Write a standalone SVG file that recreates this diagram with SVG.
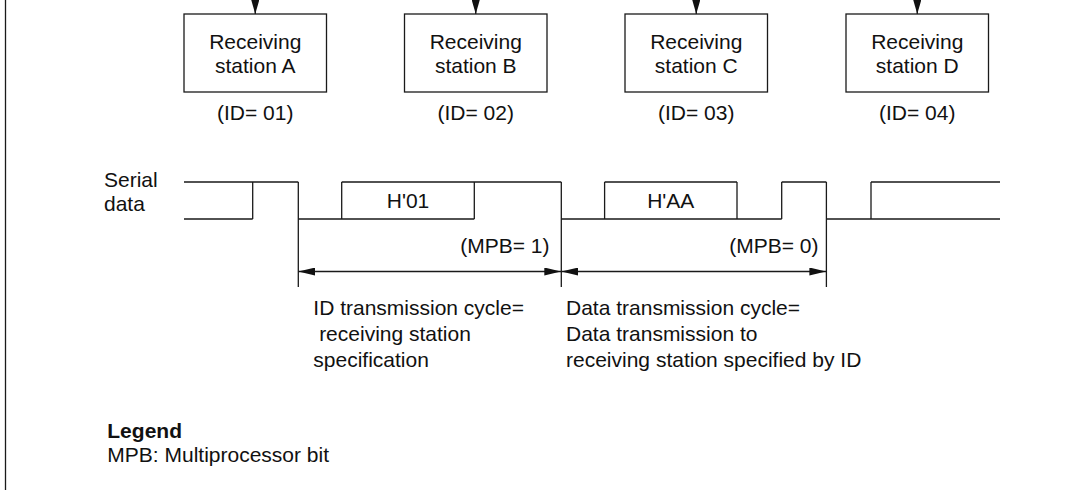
<svg xmlns="http://www.w3.org/2000/svg" width="1079" height="493" viewBox="0 0 1079 493">
<style>
  text { font-family: "Liberation Sans", Arial, sans-serif; font-size: 21px; fill: #111; }
  .c { text-anchor: middle; }
  .r { text-anchor: end; }
  .b { font-weight: bold; }
  .ln { stroke: #1a1a1a; stroke-width: 1.3; fill: none; }
  .box { stroke: #1a1a1a; stroke-width: 1.3; fill: #fff; }
</style>
<defs>
  <marker id="dim" markerUnits="userSpaceOnUse" markerWidth="17" markerHeight="8" refX="17" refY="4" orient="auto-start-reverse">
    <path d="M0,0 L17,4 L0,8 z" fill="#111"/>
  </marker>
  <marker id="down" markerUnits="userSpaceOnUse" markerWidth="14" markerHeight="8" refX="14" refY="4" orient="auto">
    <path d="M0,0 L14,4 L0,8 z" fill="#111"/>
  </marker>
</defs>
<rect width="1079" height="493" fill="#fff"/>
<line class="ln" x1="5.5" y1="0" x2="5.5" y2="490"/>

<g id="connectors">
  <line class="ln" x1="255.25" y1="0" x2="255.25" y2="14" marker-end="url(#down)"/>
  <line class="ln" x1="475.75" y1="0" x2="475.75" y2="14" marker-end="url(#down)"/>
  <line class="ln" x1="696.25" y1="0" x2="696.25" y2="14" marker-end="url(#down)"/>
  <line class="ln" x1="917.25" y1="0" x2="917.25" y2="14" marker-end="url(#down)"/>
</g>

<g id="station-a">
  <rect class="box" x="184" y="14" width="142.5" height="78"/>
  <text class="c" x="255.25" y="49">Receiving</text>
  <text class="c" x="255.25" y="73">station A</text>
  <text class="c" x="255.25" y="120">(ID= 01)</text>
</g>
<g id="station-b">
  <rect class="box" x="404.5" y="14" width="142.5" height="78"/>
  <text class="c" x="475.75" y="49">Receiving</text>
  <text class="c" x="475.75" y="73">station B</text>
  <text class="c" x="475.75" y="120">(ID= 02)</text>
</g>
<g id="station-c">
  <rect class="box" x="625" y="14" width="142.5" height="78"/>
  <text class="c" x="696.25" y="49">Receiving</text>
  <text class="c" x="696.25" y="73">station C</text>
  <text class="c" x="696.25" y="120">(ID= 03)</text>
</g>
<g id="station-d">
  <rect class="box" x="846" y="14" width="142.5" height="78"/>
  <text class="c" x="917.25" y="49">Receiving</text>
  <text class="c" x="917.25" y="73">station D</text>
  <text class="c" x="917.25" y="120">(ID= 04)</text>
</g>

<g id="serial-data">
  <text x="104" y="187">Serial</text>
  <text x="104" y="211">data</text>
  <path class="ln" d="M184,182 H298.3 M341.7,182 H561.3 M604.6,182 H737 M781.7,182 H826.4 M871,182 H1000"/>
  <path class="ln" d="M184,219 H252.7 M298.3,219 H474.3 M561.3,219 H781.7 M826.4,219 H1000"/>
  <path class="ln" d="M252.7,182 V219 M341.7,182 V219 M474.3,182 V219 M604.6,182 V219 M737,182 V219 M781.7,182 V219 M871,182 V219"/>
  <path class="ln" d="M298.3,182 V287 M561.3,182 V287 M826.4,182 V287"/>
  <text class="c" x="408" y="208">H'01</text>
  <text class="c" x="670.8" y="208">H'AA</text>
  <text class="r" x="549.5" y="253">(MPB= 1)</text>
  <text class="r" x="818.5" y="253">(MPB= 0)</text>
</g>

<g id="dimensions">
  <line class="ln" x1="298.3" y1="271.5" x2="561.3" y2="271.5" marker-start="url(#dim)" marker-end="url(#dim)"/>
  <line class="ln" x1="561.3" y1="271.5" x2="826.4" y2="271.5" marker-start="url(#dim)" marker-end="url(#dim)"/>
</g>

<g id="id-cycle">
  <text x="313.3" y="315">ID transmission cycle=</text>
  <text x="313.3" y="341" xml:space="preserve"> receiving station</text>
  <text x="313.3" y="367">specification</text>
</g>
<g id="data-cycle">
  <text x="566" y="315">Data transmission cycle=</text>
  <text x="566" y="341">Data transmission to</text>
  <text x="566" y="367">receiving station specified by ID</text>
</g>

<g id="legend">
  <text class="b" x="107.3" y="438">Legend</text>
  <text x="107.3" y="462">MPB: Multiprocessor bit</text>
</g>
</svg>
